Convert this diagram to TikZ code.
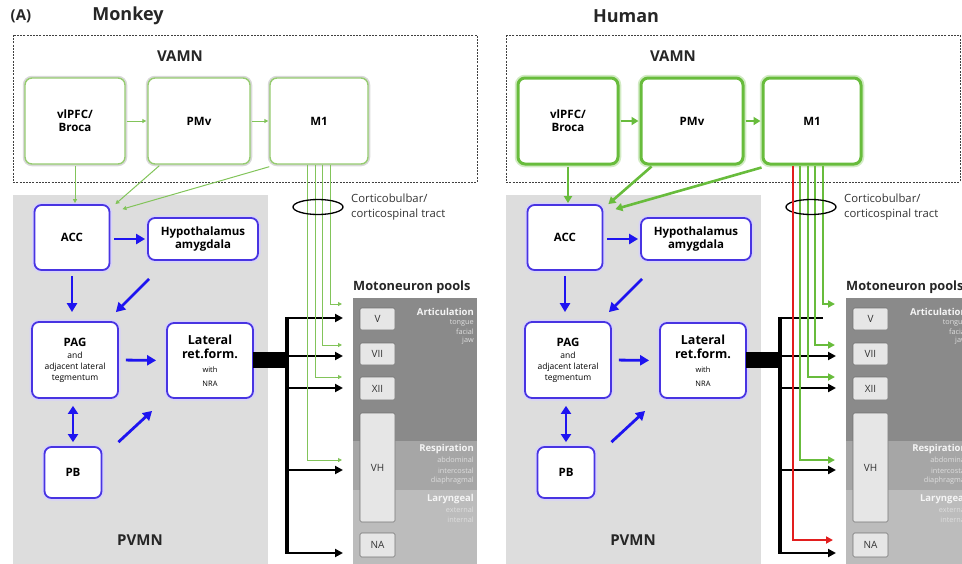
\documentclass[tikz,border=0pt]{standalone}
\usepackage{fontspec}
\setmainfont{Open Sans}
\usetikzlibrary{arrows.meta,shapes.geometric}
\newcommand\fsz[2]{\fontsize{#1}{#2}\selectfont}
\newcommand\lbl{\fsz{11.5}{13}\bfseries}
\newcommand\tny{\fsz{7.3}{8}}
\definecolor{gmk}{RGB}{150,204,112}
\definecolor{gmkarr}{RGB}{130,196,90}
\definecolor{ghu}{RGB}{104,188,60}
\definecolor{bbord}{RGB}{72,52,226}
\definecolor{barr}{RGB}{30,20,240}
\definecolor{pvgray}{RGB}{221,221,221}
\definecolor{redtr}{RGB}{226,30,30}
\definecolor{mdark}{RGB}{138,138,138}
\definecolor{mmid}{RGB}{166,166,166}
\definecolor{mlight}{RGB}{188,188,188}
\definecolor{mbox}{RGB}{230,230,230}
\definecolor{softtxt}{RGB}{222,222,222}
\tikzset{
  box/.style={rounded corners=7pt, fill=white, align=center, inner sep=1pt},
  gbox/.style={box, draw=gmk, line width=1.4pt, preaction={draw=black!15, line width=4.5pt}},
  bbox/.style={box, draw=bbord, line width=1.8pt, preaction={draw=bbord!22, line width=5pt}},
  garr/.style={draw=gmkarr, line width=1pt, -{Triangle[length=4pt,width=4pt]}},
  gtract/.style={draw=gmkarr, line width=1pt, -{Triangle[length=4pt,width=4pt]}},
  barrow/.style={draw=barr, line width=2.8pt, -{Triangle[length=9pt,width=10pt]}},
  dbarrow/.style={draw=barr, line width=2.8pt, {Triangle[length=8pt,width=10pt]}-{Triangle[length=8pt,width=10pt]}},
  kbranch/.style={draw=black, line width=2.4pt, -{Triangle[length=8pt,width=8pt]}},
  vbr/.style={kbranch},
  dashbox/.style={draw=black!75, line width=0.9pt, dash pattern=on 2pt off 1.2pt},
  mnbox/.style={fill=mbox, draw=black!55, line width=0.6pt, rounded corners=1.5pt, minimum width=35pt, inner sep=0pt, font=\fsz{10}{11}, text=black!80},
  ttl/.style={font=\fsz{15}{18}\bfseries, text=black!85},
  pooltitle/.style={font=\fsz{9.5}{10}\bfseries, text=white!96!black, anchor=east, inner sep=0pt},
  poolsub/.style={font=\tny, text=softtxt, anchor=east, inner sep=0pt},
}
\newcommand\drawpanel{%
  \draw[dashbox] (13,35) rectangle (\vamnR,182);
  \fill[pvgray] (13,195) rectangle (268,575);
  \fill[mdark] (353,298) rectangle (477,441);
  \fill[mmid] (353,441) rectangle (477,490);
  \fill[mlight] (353,490) rectangle (477,575);
  \node[ttl] (vamnl) at (180,56) {VAMN};
  \node[ttl] (pvmnl) at (140,540) {PVMN};
  \node[font=\fsz{12.8}{14}\bfseries, anchor=west, text=black!85, inner sep=0pt] (mnt) at (353,287) {Motoneuron pools};
  % VAMN boxes
  \node[gbox, minimum width=100pt, minimum height=86pt, font=\lbl] (vl) at (75,121) {vlPFC/\\Broca};
  \node[gbox, minimum width=102pt, minimum height=86pt, font=\lbl] (pm) at (199,121) {PMv};
  \node[gbox, minimum width=98pt, minimum height=86pt, font=\lbl] (m1) at (319,121) {M1};
  % PVMN boxes
  \node[bbox, minimum width=75pt, minimum height=65pt, font=\lbl] (acc) at (72,237.5) {ACC};
  \node[bbox, minimum width=110pt, minimum height=42pt, font=\lbl] (hyp) at (203,239) {Hypothalamus\\amygdala};
  \node[bbox, minimum width=86pt, minimum height=76pt, font=\fsz{8.5}{11}] (pag) at (75,360) {{\lbl PAG}\\[1pt]and\\adjacent lateral\\tegmentum};
  \node[bbox, minimum width=86pt, minimum height=75pt, font=\fsz{12.5}{14}\bfseries] (lrf) at (210,360.5) {Lateral\\ret.form.\\{\mdseries\fsz{7.5}{14}with}\\{\mdseries\fsz{7.5}{14}NRA}};
  \node[bbox, minimum width=57pt, minimum height=51pt, font=\lbl] (pb) at (73,472.5) {PB};
  % motoneuron pools
  \node[mnbox, minimum height=22pt] (V) at (377.5,319) {V};
  \node[mnbox, minimum height=22pt] (VII) at (377.5,354) {VII};
  \node[mnbox, minimum height=23pt] (XII) at (377.5,388.5) {XII};
  \node[mnbox, minimum height=109pt] (VH) at (377.5,467.5) {VH};
  \node[mnbox, minimum height=24pt] (NA) at (377.5,545) {NA};
  \node[pooltitle] (art) at (474,312) {Articulation};
  \node[poolsub] (art1) at (474,323) {tongue};
  \node[poolsub] (art2) at (474,332) {facial};
  \node[poolsub] (art3) at (474,341) {jaw};
  \node[pooltitle] (res) at (474,449) {Respiration};
  \node[poolsub] (res1) at (474,460) {abdominal};
  \node[poolsub] (res2) at (474,470.5) {intercostal};
  \node[poolsub] (res3) at (474,481) {diaphragmal};
  \node[pooltitle] (lar) at (474,499) {Laryngeal};
  \node[poolsub] (lar1) at (474,509.5) {external};
  \node[poolsub] (lar2) at (474,519.5) {internal};
  % green connectors
  \draw[garr, shorten <=1pt, shorten >=1pt] (vl.east) -- (pm.west);
  \draw[garr, shorten <=1pt, shorten >=1pt] (pm.east) -- (m1.west);
  \draw[garr, shorten <=1pt, shorten >=1pt] (vl.south) -- (vl.south |- acc.north);
  \draw[garr] ([shift={(12,1)}]pm.south west) -- ([shift={(5,0)}]acc.north east);
  \draw[garr] ([shift={(0,2)}]m1.south west) -- ([shift={(12,5)}]acc.north east);
  % blue connectors
  \draw[barrow, shorten <=4pt, shorten >=2pt] (acc.east |- hyp.west) -- (hyp.west);
  \draw[barrow, shorten <=5pt, shorten >=9pt] (acc.south) -- (acc.south |- pag.north);
  \draw[barrow] ([shift={(2,18)}]hyp.south west) -- ([shift={(-3,-9)}]pag.north east);
  \draw[barrow, shorten <=7pt, shorten >=10pt] (pag.east) -- (lrf.west);
  \draw[barrow] ([shift={(16,-4)}]pb.north east) -- ([shift={(-14,12)}]lrf.south west);
  \draw[dbarrow, shorten <=7pt, shorten >=4pt] (pag.south -| pb.north) -- (pb.north);
  % black output of lateral reticular formation
  \node[fill=black, minimum width=35pt, minimum height=16pt, inner sep=0pt] (blk) at (270.5,360) {};
  \coordinate (tV) at (287,318);  \coordinate (eV) at (343,318);
  \coordinate (tVII) at (287,356); \coordinate (eVII) at (343,356);
  \coordinate (tXII) at (287,388); \coordinate (eXII) at (343,388);
  \coordinate (tVH) at (287,470); \coordinate (eVH) at (343,470);
  \coordinate (tNA) at (287,553); \coordinate (eNA) at (343,553);
  \draw[line width=4pt] ([yshift=1.2pt]tV) -- ([yshift=-1.2pt]tNA);
  \draw[vbr, shorten <=-1.5pt] (tV) -- (eV);
  \draw[kbranch] (tVII) -- (eVII);
  \draw[kbranch] (tXII) -- (eXII);
  \draw[kbranch] (tVH) -- (eVH);
  \draw[kbranch, shorten <=-1.5pt] (tNA) -- (eNA);
  % corticobulbar / corticospinal tract
  \coordinate (gV) at (342,304);
  \coordinate (gVII) at (342,345);
  \coordinate (gXII) at (342,377);
  \coordinate (gVH) at (342,460);
  \draw[gtract] ([xshift=11pt]m1.south) |- (gV);
  \draw[gtract] ([xshift=3pt]m1.south) |- (gVII);
  \draw[gtract] ([xshift=-4pt]m1.south) |- (gXII);
  \draw[gtract] ([xshift=-12pt]m1.south) |- (gVH);
  \node[draw=black, line width=1.3pt, ellipse, minimum width=50pt, minimum height=15pt, inner sep=0pt] (ell) at (318,207) {};
  \node[anchor=west, align=left, font=\fsz{11.3}{15}, text=black!80, inner sep=0pt] (ctl) at (351,207) {Corticobulbar/\\corticospinal tract};
}
\begin{document}
\begin{tikzpicture}[x=1pt, y=-1pt]
\useasboundingbox (0,0) rectangle (962,563);
\clip (0,0) rectangle (962,563);
\node[font=\fsz{15}{18}\bfseries, text=black!85] (pa) at (21,16) {(A)};
\node[font=\fsz{18}{21}\bfseries, text=black!85] (tmk) at (128,16) {Monkey};
\node[font=\fsz{18}{21}\bfseries, text=black!85] (thu) at (626,16) {Human};
\begin{scope}[name prefix=m-]
  \def\vamnR{477}
  \drawpanel
\end{scope}
\begin{scope}[xshift=493pt, name prefix=h-,
  gbox/.style={box, draw=ghu, line width=3pt, preaction={draw=ghu!30, line width=6.5pt}},
  garr/.style={draw=ghu, line width=2.6pt, -{Triangle[length=7pt,width=8pt]}},
  gtract/.style={draw=ghu, line width=2pt, -{Triangle[length=7pt,width=7pt]}},
  vbr/.style={draw=black, line width=2.4pt, shorten >=13pt}]
  \def\vamnR{467}
  \drawpanel
  \coordinate (rNA) at (340,540);
  \draw[draw=redtr, line width=2pt, -{Triangle[length=7pt,width=7pt]}] ([xshift=-19pt]m1.south) |- (rNA);
\end{scope}
\end{tikzpicture}
\end{document}
